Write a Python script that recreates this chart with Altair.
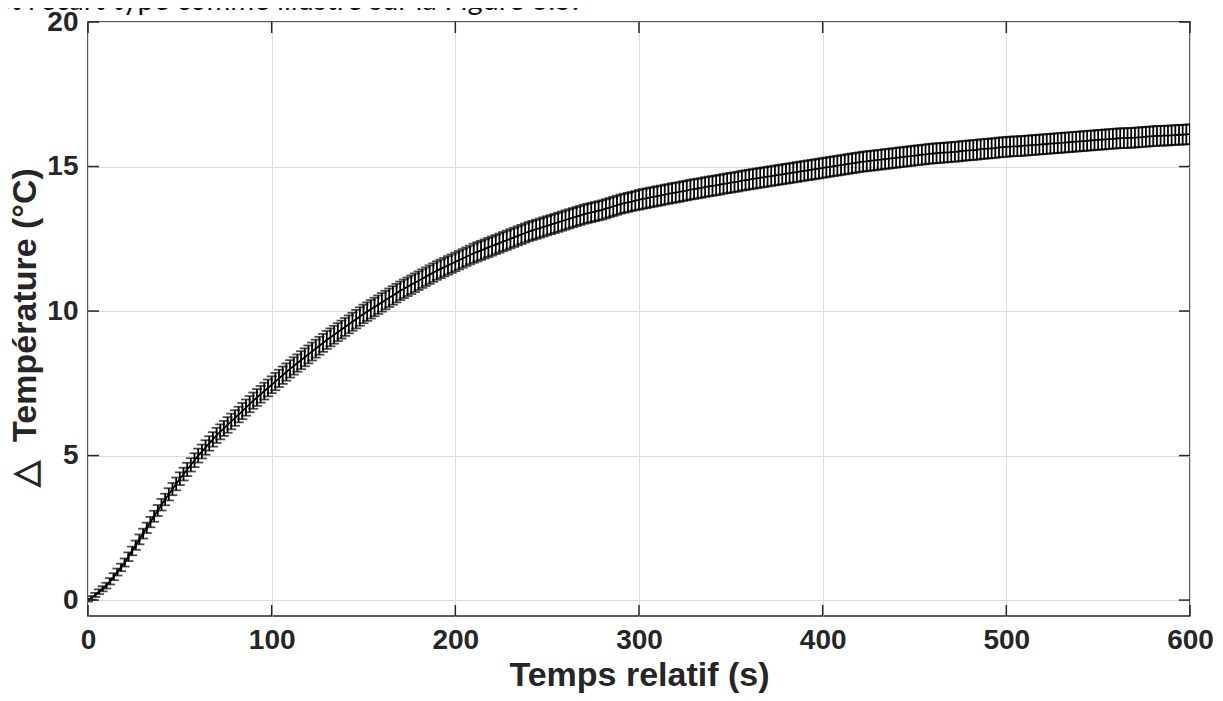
import altair as alt
import pandas as pd

CAPTION = "et l'écart type comme illustré sur la Figure 3.5."
X_TITLE = "Temps relatif (s)"
Y_TITLE = "△\u00a0 Température (°C)"

X_TICKS = [0, 100, 200, 300, 400, 500, 600]
Y_TICKS = [0, 5, 10, 15, 20]

# sampling instants (s), one every 2 s
TIME = list(range(0, 601, 2))

# mean temperature rise (°C)
MEAN = [
    0.00, 0.08, 0.18, 0.29, 0.39, 0.50, 0.65, 0.81, 0.97, 1.13,
    1.30, 1.50, 1.70, 1.90, 2.10, 2.30, 2.50, 2.70, 2.90, 3.10,
    3.30, 3.48, 3.66, 3.84, 4.02, 4.20, 4.36, 4.52, 4.68, 4.84,
    5.00, 5.14, 5.28, 5.42, 5.56, 5.70, 5.82, 5.94, 6.06, 6.18,
    6.30, 6.42, 6.54, 6.66, 6.78, 6.90, 7.01, 7.12, 7.23, 7.34,
    7.45, 7.56, 7.67, 7.78, 7.89, 8.00, 8.10, 8.20, 8.30, 8.40,
    8.50, 8.60, 8.70, 8.80, 8.90, 9.00, 9.09, 9.18, 9.27, 9.36,
    9.45, 9.54, 9.63, 9.72, 9.81, 9.90, 9.98, 10.06, 10.14, 10.22,
    10.30, 10.38, 10.46, 10.54, 10.62, 10.70, 10.77, 10.84, 10.91, 10.98,
    11.05, 11.12, 11.19, 11.26, 11.33, 11.40, 11.46, 11.52, 11.58, 11.64,
    11.70, 11.76, 11.82, 11.88, 11.94, 12.00, 12.05, 12.10, 12.15, 12.20,
    12.25, 12.30, 12.35, 12.40, 12.45, 12.50, 12.55, 12.60, 12.65, 12.70,
    12.75, 12.79, 12.83, 12.87, 12.91, 12.95, 12.99, 13.03, 13.07, 13.11,
    13.15, 13.19, 13.23, 13.27, 13.31, 13.35, 13.38, 13.41, 13.44, 13.47,
    13.50, 13.54, 13.58, 13.62, 13.66, 13.70, 13.73, 13.76, 13.79, 13.82,
    13.85, 13.88, 13.90, 13.93, 13.95, 13.98, 14.00, 14.03, 14.05, 14.08,
    14.10, 14.12, 14.15, 14.17, 14.20, 14.22, 14.24, 14.26, 14.29, 14.31,
    14.33, 14.35, 14.37, 14.40, 14.42, 14.44, 14.46, 14.48, 14.51, 14.53,
    14.55, 14.57, 14.59, 14.61, 14.63, 14.65, 14.67, 14.69, 14.71, 14.73,
    14.75, 14.77, 14.79, 14.81, 14.83, 14.85, 14.87, 14.89, 14.91, 14.93,
    14.95, 14.97, 14.99, 15.01, 15.03, 15.05, 15.07, 15.09, 15.11, 15.13,
    15.15, 15.17, 15.18, 15.20, 15.21, 15.23, 15.24, 15.26, 15.27, 15.29,
    15.30, 15.32, 15.33, 15.35, 15.36, 15.38, 15.39, 15.41, 15.42, 15.44,
    15.45, 15.46, 15.47, 15.48, 15.49, 15.50, 15.51, 15.52, 15.54, 15.55,
    15.56, 15.57, 15.58, 15.60, 15.61, 15.62, 15.63, 15.64, 15.66, 15.67,
    15.68, 15.69, 15.70, 15.70, 15.71, 15.72, 15.73, 15.74, 15.75, 15.76,
    15.77, 15.78, 15.79, 15.80, 15.81, 15.82, 15.83, 15.84, 15.85, 15.86,
    15.87, 15.88, 15.89, 15.90, 15.91, 15.92, 15.93, 15.94, 15.95, 15.96,
    15.97, 15.98, 15.98, 15.99, 15.99, 16.00, 16.01, 16.02, 16.03, 16.04,
    16.05, 16.06, 16.06, 16.07, 16.07, 16.08, 16.09, 16.10, 16.10, 16.11,
    16.12,
]

# standard deviation (°C)
STD = [
    0.05, 0.06, 0.07, 0.08, 0.09, 0.10, 0.11, 0.12, 0.12, 0.13,
    0.14, 0.15, 0.15, 0.16, 0.17, 0.17, 0.18, 0.18, 0.19, 0.19,
    0.20, 0.20, 0.21, 0.21, 0.22, 0.22, 0.22, 0.23, 0.23, 0.24,
    0.24, 0.24, 0.25, 0.25, 0.25, 0.26, 0.26, 0.26, 0.27, 0.27,
    0.27, 0.27, 0.28, 0.28, 0.28, 0.28, 0.29, 0.29, 0.29, 0.29,
    0.29, 0.30, 0.30, 0.30, 0.30, 0.30, 0.30, 0.30, 0.31, 0.31,
    0.31, 0.31, 0.31, 0.31, 0.31, 0.31, 0.31, 0.31, 0.31, 0.31,
    0.31, 0.31, 0.31, 0.32, 0.32, 0.32, 0.32, 0.32, 0.32, 0.32,
    0.32, 0.32, 0.32, 0.32, 0.32, 0.32, 0.32, 0.32, 0.32, 0.32,
    0.32, 0.32, 0.32, 0.32, 0.32, 0.32, 0.32, 0.32, 0.32, 0.32,
    0.32, 0.32, 0.32, 0.32, 0.32, 0.33, 0.33, 0.33, 0.33, 0.33,
    0.33, 0.33, 0.33, 0.33, 0.33, 0.33, 0.33, 0.33, 0.33, 0.33,
    0.33, 0.33, 0.33, 0.33, 0.33, 0.33, 0.33, 0.33, 0.33, 0.33,
    0.33, 0.33, 0.33, 0.33, 0.33, 0.33, 0.33, 0.33, 0.33, 0.33,
    0.33, 0.33, 0.33, 0.33, 0.33, 0.33, 0.33, 0.33, 0.33, 0.33,
    0.34, 0.34, 0.34, 0.34, 0.34, 0.34, 0.34, 0.34, 0.34, 0.34,
    0.34, 0.34, 0.34, 0.34, 0.34, 0.34, 0.34, 0.34, 0.34, 0.34,
    0.34, 0.34, 0.34, 0.34, 0.34, 0.34, 0.34, 0.34, 0.34, 0.34,
    0.34, 0.34, 0.34, 0.34, 0.34, 0.34, 0.34, 0.34, 0.34, 0.34,
    0.34, 0.34, 0.34, 0.34, 0.34, 0.34, 0.34, 0.34, 0.34, 0.34,
    0.34, 0.34, 0.34, 0.34, 0.34, 0.34, 0.34, 0.34, 0.34, 0.34,
    0.34, 0.34, 0.34, 0.34, 0.34, 0.34, 0.34, 0.34, 0.34, 0.34,
    0.34, 0.34, 0.34, 0.34, 0.34, 0.34, 0.34, 0.34, 0.34, 0.34,
    0.34, 0.34, 0.34, 0.34, 0.34, 0.34, 0.34, 0.34, 0.34, 0.34,
    0.34, 0.34, 0.34, 0.34, 0.34, 0.34, 0.34, 0.34, 0.34, 0.34,
    0.34, 0.34, 0.34, 0.34, 0.34, 0.34, 0.34, 0.34, 0.34, 0.34,
    0.34, 0.34, 0.34, 0.34, 0.34, 0.34, 0.34, 0.34, 0.34, 0.34,
    0.34, 0.34, 0.34, 0.34, 0.34, 0.34, 0.34, 0.34, 0.34, 0.34,
    0.34, 0.34, 0.34, 0.34, 0.34, 0.34, 0.34, 0.34, 0.34, 0.34,
    0.34, 0.34, 0.34, 0.34, 0.34, 0.34, 0.34, 0.34, 0.34, 0.34,
    0.34,
]

W, H = 1102, 594
INK = "#262626"
FONT = "Liberation Sans"

df = pd.DataFrame({"t": TIME, "m": MEAN, "s": STD})
df["lo"] = df["m"] - df["s"]
df["hi"] = df["m"] + df["s"]

xs = alt.Scale(domain=[0, 600], nice=False, zero=False)
ys = alt.Scale(domain=[-0.55, 20], nice=False, zero=False)

x_axis = alt.Axis(values=X_TICKS, title=X_TITLE, grid=True, ticks=False, domain=False,
                  labelPadding=10, titlePadding=4, format="d", labelFlush=False)
y_axis = alt.Axis(values=Y_TICKS, title=Y_TITLE, grid=True, ticks=False, domain=False,
                  labelPadding=10, titlePadding=4, format="d", labelFlush=False,
                  titleY=305)

base = alt.Chart(df)
SW = 1.8

bars = base.mark_rule(color="black", strokeWidth=SW, clip=True).encode(
    x=alt.X("t:Q", scale=xs, axis=x_axis),
    y=alt.Y("lo:Q", scale=ys, axis=y_axis),
    y2="hi:Q",
)
cap_lo = base.mark_tick(color="black", orient="horizontal", size=10, thickness=SW, clip=True).encode(
    x=alt.X("t:Q", scale=xs), y=alt.Y("lo:Q", scale=ys)
)
cap_hi = base.mark_tick(color="black", orient="horizontal", size=10, thickness=SW, clip=True).encode(
    x=alt.X("t:Q", scale=xs), y=alt.Y("hi:Q", scale=ys)
)
line = base.mark_line(color="black", strokeWidth=SW, clip=True).encode(
    x=alt.X("t:Q", scale=xs), y=alt.Y("m:Q", scale=ys)
)

xt = alt.Chart(pd.DataFrame({"v": X_TICKS}))
yt = alt.Chart(pd.DataFrame({"v": Y_TICKS}))
tick_style = dict(color=INK, strokeWidth=1.5)
xtick_bot = xt.mark_rule(**tick_style).encode(
    x=alt.X("v:Q", scale=xs), y=alt.value(H), y2=alt.value(H - 11))
xtick_top = xt.mark_rule(**tick_style).encode(
    x=alt.X("v:Q", scale=xs), y=alt.value(0), y2=alt.value(11))
ytick_left = yt.mark_rule(**tick_style).encode(
    y=alt.Y("v:Q", scale=ys), x=alt.value(0), x2=alt.value(11))
ytick_right = yt.mark_rule(**tick_style).encode(
    y=alt.Y("v:Q", scale=ys), x=alt.value(W), x2=alt.value(W - 11))

caption = alt.Chart(pd.DataFrame({"txt": [CAPTION]})).mark_text(
    align="left", baseline="alphabetic", font="Lato", fontSize=29, color="#111111"
).encode(x=alt.value(-93), y=alt.value(-12), text="txt:N")

chart = alt.layer(
    bars, cap_lo, cap_hi, line,
    xtick_bot, xtick_top, ytick_left, ytick_right, caption,
).properties(
    width=W, height=H,
    padding={"left": 80, "top": 14, "right": 25, "bottom": 77},
    autosize=alt.AutoSizeParams(type="none"),
).configure_view(
    stroke=INK, strokeWidth=1.5
).configure_axis(
    labelFont=FONT, labelFontSize=28, labelFontWeight="bold", labelColor=INK,
    titleFont=FONT, titleFontSize=34, titleFontWeight="bold", titleColor=INK,
    gridColor="#dcdcdc", gridWidth=1,
)

chart.save("out.html", embed_options={"renderer": "svg", "actions": False})
